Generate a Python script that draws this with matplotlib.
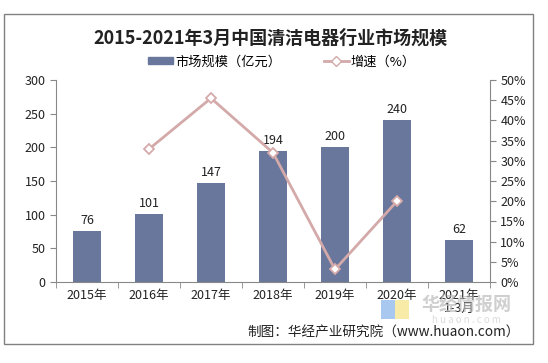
import matplotlib
matplotlib.use("Agg")
import matplotlib.pyplot as plt
from matplotlib.patches import Rectangle, Patch
from matplotlib.lines import Line2D
import numpy as np

plt.rcParams['font.family'] = ['Noto Sans CJK SC', 'DejaVu Sans']

categories = ["2015年", "2016年", "2017年", "2018年", "2019年", "2020年", "2021年\n1-3月"]
market_size = [76, 101, 147, 194, 200, 240, 62]
growth = [None, 32.9, 45.5, 32.0, 3.1, 20.0, None]

bar_color = "#68779B"
line_color = "#D4A9A9"
axis_color = "#888888"
W, H = 548, 363

fig = plt.figure(figsize=(5.48, 3.63), dpi=100)
fig.patches.append(Rectangle((4/W, 1-344/H), (533-4)/W, (344-14)/H,
                             transform=fig.transFigure, fill=False, edgecolor="#808080", lw=1))

# watermark blocks
fig.patches.append(Rectangle((381/W, 1-319/H), 14/W, 19/H, transform=fig.transFigure,
                             color="#A8C8F0", lw=0, zorder=0))
fig.patches.append(Rectangle((395/W, 1-319/H), 14/W, 19/H, transform=fig.transFigure,
                             color="#F8EBA8", lw=0, zorder=0))

ax = fig.add_axes([56/W, 1-282/H, (490-56)/W, (282-80)/H])
ax.patch.set_alpha(0)
x = np.arange(len(categories))
ax.bar(x, market_size, width=0.46, color=bar_color, zorder=2)
for xi, v in zip(x, market_size):
    ax.text(xi, v + 6, str(v), ha='center', va='bottom', fontsize=9, color='#222222')

ax.set_xlim(-0.5, len(categories) - 0.5)
ax.set_ylim(0, 300)
ax.set_yticks(range(0, 301, 50))
ax.set_xticks(x)
ax.set_xticklabels(categories, fontsize=9, color='#222222', linespacing=1.0)
ax.tick_params(axis='x', length=0, pad=5)
ax.set_xticks(np.arange(-0.5, len(categories), 1), minor=True)
ax.tick_params(axis='x', which='minor', length=4, color=axis_color, direction='out')
ax.tick_params(axis='y', labelsize=9, colors='#222222', length=4, color=axis_color, direction='out')
for s in ['top', 'right']:
    ax.spines[s].set_visible(False)
for s in ['left', 'bottom']:
    ax.spines[s].set_color(axis_color)

ax2 = ax.twinx()
gx = [xi for xi, g in zip(x, growth) if g is not None]
gy = [g for g in growth if g is not None]
ax2.plot(gx, gy, color=line_color, lw=2, marker='D', markersize=5.5,
         markerfacecolor='white', markeredgecolor=line_color, markeredgewidth=1.3, zorder=3)
ax2.set_ylim(0, 50)
ax2.set_yticks(range(0, 51, 5))
ax2.set_yticklabels([f"{v}%" for v in range(0, 51, 5)])
ax2.tick_params(axis='y', labelsize=9, colors='#222222', length=4, color=axis_color, direction='out')
for s in ['top', 'left', 'bottom']:
    ax2.spines[s].set_visible(False)
ax2.spines['right'].set_color(axis_color)

fig.text(270/W, 1-38/H, "2015-2021年3月中国清洁电器行业市场规模", ha='center', va='center',
         fontsize=13, fontweight='bold', color='#222222')

handles = [Patch(color=bar_color, label="市场规模（亿元）"),
           Line2D([0], [0], color=line_color, lw=2, marker='D', markersize=5,
                  markerfacecolor='white', markeredgecolor=line_color, label="增速（%）")]
fig.legend(handles=handles, loc='center', bbox_to_anchor=(282/W, 1-62/H), ncol=2,
           frameon=False, fontsize=9.5, handlelength=1.9, handleheight=0.45, columnspacing=3.2,
           handletextpad=0.15, borderpad=0, borderaxespad=0)

fig.text(466/W, 1-305/H, "华经情报网", ha='center', va='center', fontsize=13,
         fontweight='bold', color='#BBBBBB', alpha=0.7, zorder=0)
fig.text(466/W, 1-320/H, "h u a o n . c o m", ha='center', va='center', fontsize=7,
         color='#CCCCCC', alpha=0.7, zorder=0)
fig.text(520/W, 1-332/H, "制图：华经产业研究院（www.huaon.com）", ha='right', va='center',
         fontsize=9.8, color='#222222')

fig.savefig("out.png", dpi=100)
